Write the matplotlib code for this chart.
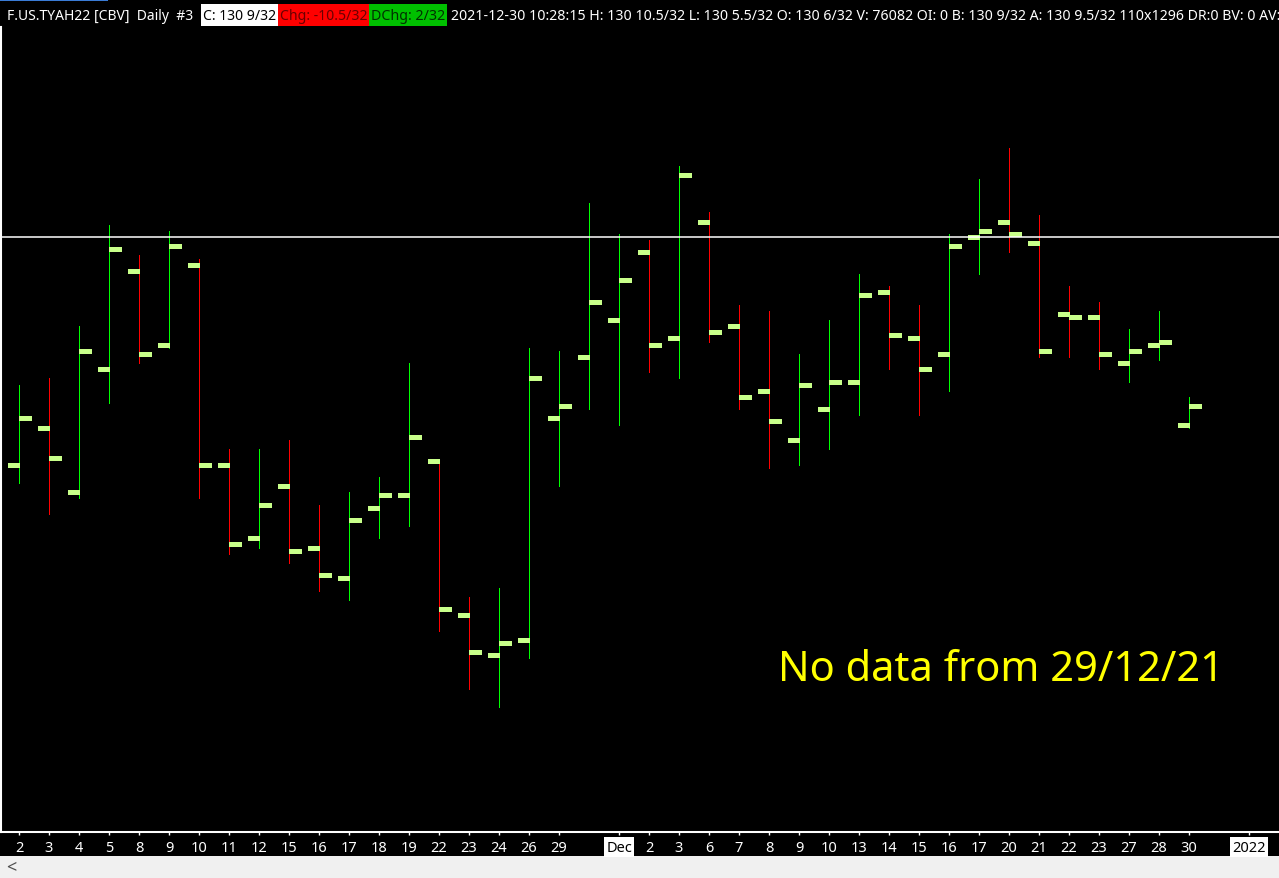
import numpy as np
import matplotlib
matplotlib.use("Agg")
import matplotlib.pyplot as plt
from matplotlib.patches import Rectangle

plt.rcParams['font.family'] = ['Noto Sans', 'DejaVu Sans']

# daily bars F.US.TYAH22, Nov 2 .. Dec 30 2021 (no bar for Dec 29)
days = ["2", "3", "4", "5", "8", "9", "10", "11", "12", "15", "16", "17", "18", "19",
        "22", "23", "24", "26", "29", "30",
        "1", "2", "3", "6", "7", "8", "9", "10", "13", "14", "15", "16", "17", "20",
        "21", "22", "23", "27", "28", "30"]
# prices in 32nds above 130
opens32 = [-0.5, 5.5, -5, 15, 31, 19, 32, -0.5, -12.5, -4, -14, -19, -7.5, -5.5,
           0, -25, -31.5, -29, 7, 17,
           23, 34, 20, 39, 22, 11.5, 3.5, 8.5, 13, 27.5, 20, 17.5, 36.5, 39,
           35.5, 24, 23.5, 16, 19, 6]
highs32 = [12.5, 13.5, 22, 38.5, 33.5, 37.5, 33, 2, 2, 3.5, -7, -5, -2.5, 16,
           0, -22, -20.5, 18.5, 18, 42,
           37, 36, 48, 40.5, 25.5, 24.5, 17.5, 23, 30.5, 28.5, 25.5, 37, 46, 51,
           40, 28.5, 26, 21.5, 24.5, 10.5]
lows32 = [-3.5, -8.5, -6, 9.5, 16, 18.5, -6, -15, -14, -16.5, -21, -22.5, -12.5, -10.5,
          -27.5, -37, -40, -32, -4, 8.5,
          6, 14.5, 13.5, 19.5, 8.5, -1, -0.5, 2, 7.5, 15, 7.5, 11.5, 30.5, 34,
          17, 17, 15, 13, 16.5, 5.5]
closes32 = [7, 0.5, 18, 34.5, 17.5, 35, -0.5, -13.5, -7, -14.5, -18.5, -9.5, -5.5, 4,
            -24, -31, -29.5, 13.5, 9, 26,
            29.5, 19, 46.5, 21, 10.5, 6.5, 12.5, 13, 27, 20.5, 15, 35, 37.5, 37,
            18, 23.5, 17.5, 18, 19.5, 9]
ref_line32 = 36.5

opens = 130 + np.array(opens32) / 32
highs = 130 + np.array(highs32) / 32
lows = 130 + np.array(lows32) / 32
closes = 130 + np.array(closes32) / 32

W, H = 1279, 879


def fx(px):
    return px / W


def fy(py):
    return 1 - py / H


def py2price(py):
    # window scale: 6.15 px per 1/32, close 9/32 sits at y=407
    return 130 + (9 + (407.1 - py) / 6.15) / 32


fig = plt.figure(figsize=(W / 100, H / 100), dpi=100, facecolor='black')

# grey scroll strip at the bottom
fig.add_artist(Rectangle((0, 0), 1, fy(857), transform=fig.transFigure,
                         facecolor='#f0f0f0', edgecolor='none', zorder=0))
fig.text(fx(6), fy(868), "<", color='#505050', fontsize=13, va='center', ha='left')
fig.add_artist(Rectangle((0, fy(2)), fx(108), 2 / H, transform=fig.transFigure,
                         facecolor='#3a7bd5', edgecolor='none'))

ax = fig.add_axes([fx(1), fy(833), fx(1278), (833 - 28) / H])
ax.set_facecolor('black')

x = np.arange(len(days))
cols = ['#00ff00' if c >= o else '#ff0000' for o, c in zip(opens, closes)]
ax.vlines(x, lows, highs, colors=cols, linewidth=0.7, antialiased=False, zorder=2)
ax.hlines(opens, x - 0.38, x, color='#c8ff8a', linewidth=2.2, antialiased=False, zorder=3)
ax.hlines(closes, x, x + 0.4, color='#c8ff8a', linewidth=2.2, antialiased=False, zorder=3)
ax.axhline(130 + ref_line32 / 32, color='white', linewidth=1.1, zorder=5)

ax.set_xlim(-0.6, 42.0)
ax.set_ylim(py2price(833), py2price(28))

for s in ['top', 'right']:
    ax.spines[s].set_visible(False)
for s in ['left', 'bottom']:
    ax.spines[s].set_color('white')
    ax.spines[s].set_linewidth(1.5)
ax.set_yticks([])

tick_pos = [i for i in range(len(days)) if i != 19] + [41]
tick_lab = ["Dec" if i == 20 else days[i] for i in range(len(days)) if i != 19] + ["2022"]
ax.set_xticks(tick_pos)
ax.set_xticklabels(tick_lab)
ax.tick_params(axis='x', colors='white', length=2.5, width=1, labelsize=10.5, pad=3)
for lab in ax.get_xticklabels():
    if lab.get_text() in ("Dec", "2022"):
        lab.set_color('black')
        lab.set_bbox(dict(facecolor='white', edgecolor='none', pad=1.6))

renderer = fig.canvas.get_renderer()


def fit(t, width):
    w = t.get_window_extent(renderer).width
    t.set_fontsize(t.get_fontsize() * width / w)


no_data = ax.text(-0.6 + (778 - 1) / 30, py2price(670), "No data from 29/12/21",
                  color='#ffff00', fontsize=30, va='center', ha='left', zorder=6)
fit(no_data, 446)

# header strip
yc = fy(16)
segs = [
    (5, 195, "F.US.TYAH22 [CBV]  Daily  #3", 'white', None),
    (201, 278, "C: 130 9/32", 'black', 'white'),
    (278, 369, "Chg: -10.5/32", '#6a0000', '#ff0000'),
    (369, 447, "DChg: 2/32", '#003000', '#00c000'),
    (449, 1276, "2021-12-30 10:28:15 H: 130 10.5/32 L: 130 5.5/32 O: 130 6/32 V: 76082 "
                "OI: 0 B: 130 9/32 A: 130 9.5/32 110x1296 DR:0 BV: 0 AV:", 'white', None),
]
for x0, x1, s, fc, bg in segs:
    if bg is not None:
        fig.add_artist(Rectangle((fx(x0), fy(27)), fx(x1 - x0), 22 / H,
                                 transform=fig.transFigure, facecolor=bg,
                                 edgecolor='none'))
    t = fig.text(fx(x0 + 2), yc, s, color=fc, fontsize=9, va='center', ha='left')
    fit(t, x1 - x0 - 4)

fig.savefig("out.png", dpi=100, facecolor=fig.get_facecolor())
